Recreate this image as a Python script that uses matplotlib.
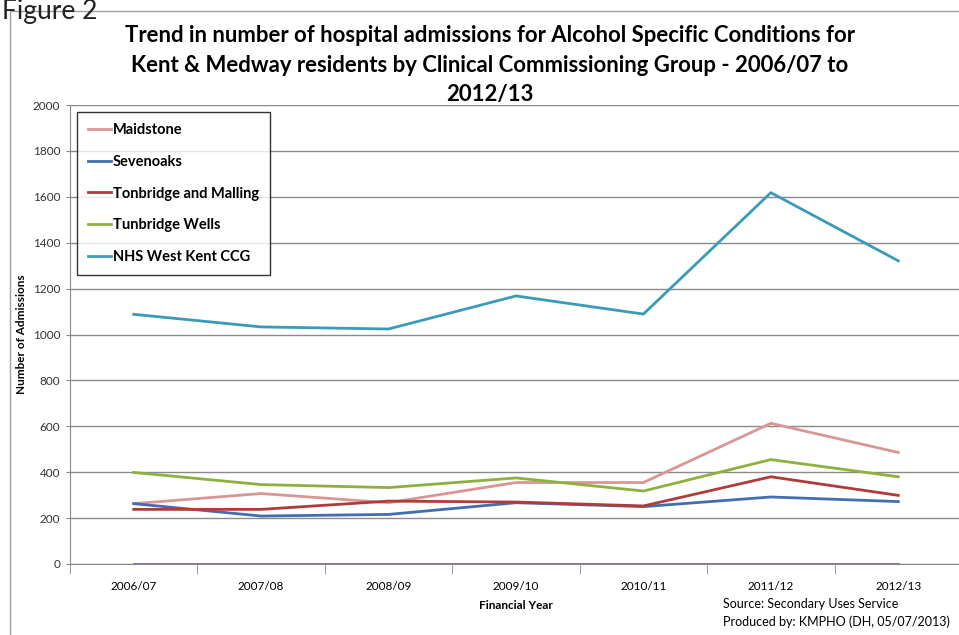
import matplotlib.pyplot as plt
from matplotlib.patches import Rectangle

years = ['2006/07', '2007/08', '2008/09', '2009/10', '2010/11', '2011/12', '2012/13']

maidstone = [263, 307, 267, 355, 355, 613, 486]
sevenoaks = [263, 209, 216, 267, 250, 292, 272]
tonbridge_malling = [238, 238, 274, 270, 253, 380, 299]
tunbridge_wells = [399, 346, 333, 375, 318, 455, 380]
west_kent_ccg = [1088, 1033, 1024, 1168, 1089, 1618, 1321]
other = [0, 0, 0, 0, 0, 0, 0]

series = [
    ('Maidstone', maidstone, '#D99694'),
    ('Sevenoaks', sevenoaks, '#3F6FB0'),
    ('Tonbridge and Malling', tonbridge_malling, '#B03C3A'),
    ('Tunbridge Wells', tunbridge_wells, '#8DB03F'),
    ('NHS West Kent CCG', west_kent_ccg, '#3A9BB8'),
]

plt.rcParams['font.family'] = ['Lato', 'DejaVu Sans']

W, H = 959, 635
fig = plt.figure(figsize=(W / 100, H / 100), dpi=100)

# chart frame
fig.patches.append(Rectangle((10 / W, -0.1), 1.2, (H - 11) / H + 0.1,
                             transform=fig.transFigure, fill=False,
                             edgecolor='#A0A0A0', linewidth=1))

fig.text(2 / W, 1 + 1 / H, 'Figure 2', fontsize=19, va='top', ha='left', color='#222222')

ax = fig.add_axes([70 / W, 71 / H, 892 / W, 459 / H])
x = list(range(len(years)))
ax.plot(x, other, color='#7F62A0', linewidth=2)
for name, vals, col in series:
    ax.plot(x, vals, color=col, linewidth=2, label=name)

ax.set_xlim(-0.5, len(years) - 0.5)
ax.set_ylim(0, 2000)
ax.set_yticks(range(0, 2001, 200))
ax.yaxis.grid(True, color='#8A8A8A', linewidth=1)
ax.set_axisbelow(True)
ax.set_xticks(x)
ax.set_xticklabels(years)
ax.set_xticks([i - 0.5 for i in range(len(years) + 1)], minor=True)
ax.tick_params(axis='x', which='major', length=0, pad=12, labelsize=8.5)
ax.tick_params(axis='x', which='minor', length=7, color='#8A8A8A', direction='out')
ax.tick_params(axis='y', length=3, color='#8A8A8A', labelsize=8.5, pad=4, labelcolor='#333333')
for s in ['top', 'right']:
    ax.spines[s].set_visible(False)
ax.spines['left'].set_color('#8A8A8A')
ax.spines['bottom'].set_color('#8A8A8A')

ax.set_ylabel('Number of Admissions', fontsize=8.5, fontweight='bold', labelpad=4)
ax.set_xlabel('Financial Year', fontsize=8.5, fontweight='bold', labelpad=6)

leg = ax.legend(loc='upper left', bbox_to_anchor=(7 / 892, 452 / 459), frameon=True,
                fancybox=False, edgecolor='black', handlelength=1.6, handletextpad=0.1,
                labelspacing=1.22, borderpad=0.75, borderaxespad=0,
                prop={'weight': 'bold', 'size': 10.5})
leg.get_frame().set_linewidth(1)

fig.text(490 / W, 1 - 65 / H,
         'Trend in number of hospital admissions for Alcohol Specific Conditions for\n'
         'Kent & Medway residents by Clinical Commissioning Group - 2006/07 to\n2012/13',
         ha='center', va='center', fontsize=15.9, fontweight='bold', linespacing=1.5)
fig.text(1 - 236 / W, 1 - 604 / H, 'Source: Secondary Uses Service', fontsize=9, va='center')
fig.text(1 - 236 / W, 1 - 622 / H, 'Produced by: KMPHO (DH, 05/07/2013)', fontsize=9, va='center')

fig.savefig('out.png', dpi=100)
